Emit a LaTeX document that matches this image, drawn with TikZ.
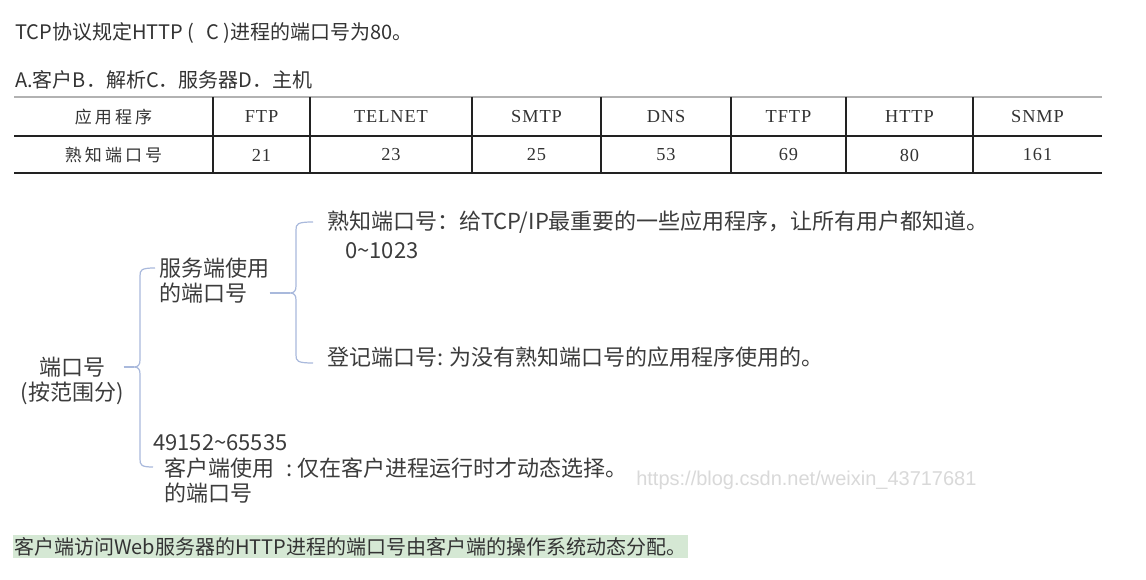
\documentclass[tikz,border=0pt]{standalone}
\usepackage{fontspec}
\setmainfont{Liberation Sans}
\newfontfamily\cjk{Noto Sans CJK SC}
\newfontfamily\cjkls[LetterSpace=18]{Noto Sans CJK SC}
\newfontfamily\tserif[LetterSpace=5]{Liberation Serif}
\newfontfamily\wmfont{Liberation Sans}
\newcommand\myfs[2]{\fontsize{#1}{#2}\selectfont}
\definecolor{txt}{HTML}{333333}
\definecolor{mtxt}{HTML}{3C3C3C}
\definecolor{brc}{HTML}{A9B9DC}
\definecolor{hl}{HTML}{D5E8D4}
\definecolor{wm}{HTML}{D9D9D9}
\definecolor{tline}{HTML}{222222}
\tikzset{
  toptext/.style={anchor=west,inner sep=0pt,text=txt,font=\cjk\myfs{15pt}{18pt}},
  tcell/.style={inner sep=0pt,text=txt,font=\tserif\myfs{13.75pt}{16pt}},
  tcellcjk/.style={inner sep=0pt,text=txt,font=\cjkls\myfs{12.75pt}{15pt}},
  mm/.style={anchor=west,inner sep=0pt,text=mtxt,align=left,font=\cjk\myfs{16.5pt}{18.75pt}},
  brace/.style={draw=brc,line width=0.9pt},
  thick rule/.style={draw=tline,line width=1.9pt},
  thin rule/.style={draw=black!30,line width=0.8pt},
  vrule/.style={draw=tline,line width=1.6pt},
}
\begin{document}
\begin{tikzpicture}[x=0.75pt,y=-0.75pt]
\useasboundingbox[fill=white] (0,0) rectangle (1146,580);

% question lines
\node[toptext] (q1) at (15,33) {TCP协议规定HTTP (\hspace{9pt}C )进程的端口号为80。};
\node[toptext] (q2) at (15,80) {A.客户B．解析C．服务器D．主机};

% table rules
\draw[thin rule] (14,97) -- (1102,97);
\draw[thick rule] (14,136) -- (1102,136);
\draw[thick rule] (14,173) -- (1102,173);
\foreach \x in {213,310,472,601,731,846,973}
  \draw[vrule] (\x,97) -- (\x,173);

% table cells
\node[tcellcjk] (h0) at (113.5,117) {应用程序};
\node[tcell] (h1) at (261.5,117) {FTP};
\node[tcell] (h2) at (391,117) {TELNET};
\node[tcell] (h3) at (536.5,117) {SMTP};
\node[tcell] (h4) at (666,117) {DNS};
\node[tcell] (h5) at (788.5,117) {TFTP};
\node[tcell] (h6) at (909.5,117) {HTTP};
\node[tcell] (h7) at (1037.5,117) {SNMP};
\node[tcellcjk] (v0) at (113.5,155) {熟知端口号};
\node[tcell] (v1) at (261.5,155) {21};
\node[tcell] (v2) at (391,155) {23};
\node[tcell] (v3) at (536.5,155) {25};
\node[tcell] (v4) at (666,155) {53};
\node[tcell] (v5) at (788.5,155) {69};
\node[tcell] (v6) at (909.5,155) {80};
\node[tcell] (v7) at (1037.5,155) {161};

% mind map
\node[inner sep=0pt,text=mtxt,align=center,font=\cjk\myfs{16.5pt}{18.75pt}] (root) at (72,381) {端口号\\(按范围分)};
\node[mm] (srv) at (159,280.5) {服务端使用\\的端口号};
\node[mm] (wk) at (327,222) {熟知端口号：给TCP/IP最重要的一些应用程序，让所有用户都知道。};
\node[mm] (wkr) at (345,251) {0\textasciitilde1023};
\node[mm] (reg) at (327,357) {登记端口号: 为没有熟知端口号的应用程序使用的。};
\node[mm] (clr) at (153,443) {49152\textasciitilde65535};
\node[mm] (cl) at (164,480.5) {客户端使用\hspace{9pt}:\hspace{4pt}仅在客户进程运行时才动态选择。\\的端口号};

% brace 1
\coordinate (b1m) at (134,367);
\coordinate (b1t) at (155,268);
\coordinate (b1b) at (153,467);
\draw[brace] (root.east |- b1m) -- (b1m);
\draw[brace] (b1t) .. controls (141,268) and (140,270) .. (140,276) -- (140,360)
  .. controls (140,365) and (138,367) .. (b1m)
  .. controls (138,367) and (140,369) .. (140,374) -- (140,459)
  .. controls (140,465) and (141,467) .. (b1b);

% brace 2
\coordinate (b2m) at (290,293);
\coordinate (b2t) at (313,222);
\coordinate (b2b) at (313,363);
\draw[brace] (srv.east |- b2m) -- (b2m);
\draw[brace] (b2t) .. controls (297,222) and (296,224) .. (296,230) -- (296,286)
  .. controls (296,291) and (294,293) .. (b2m)
  .. controls (294,293) and (296,295) .. (296,300) -- (296,355)
  .. controls (296,361) and (297,363) .. (b2b);

% watermark
\node[anchor=west,inner sep=0pt,text=wm,font=\wmfont\myfs{15pt}{18pt}] (wmk) at (636,480) {https://blog.csdn.net/weixin\_43717681};

% highlighted note
\fill[hl] (13,535) rectangle (688,558);
\node[anchor=west,inner sep=0pt,text=txt,font=\cjk\myfs{15pt}{17pt}] (note) at (14,546.5) {客户端访问Web服务器的HTTP进程的端口号由客户端的操作系统动态分配。};
\end{tikzpicture}
\end{document}
